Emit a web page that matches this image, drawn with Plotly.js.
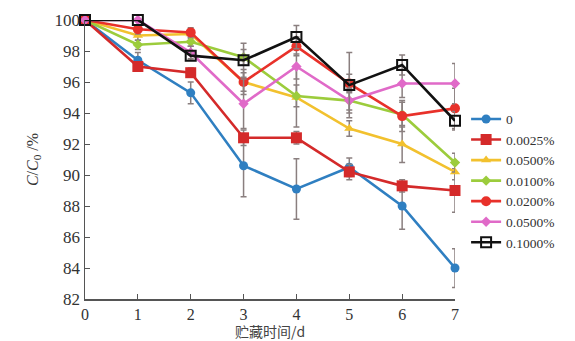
<!DOCTYPE html>
<html>
<head>
<meta charset="utf-8">
<script src="https://cdn.plot.ly/plotly-3.0.1.min.js"></script>
<style>html,body{margin:0;padding:0;background:#fff;}#chart{width:575px;height:341px;}</style>
</head>
<body>
<div id="chart"></div>
<script>
const days = [0, 1, 2, 3, 4, 5, 6, 7];
const seriesNames = ["0", "0.0025%", "0.0500%", "0.0100%", "0.0200%", "0.0500%", "0.1000%"];

const v0      = [100, 97.4, 95.3, 90.6, 89.1, 90.5, 88.0, 84.0];
const v0025   = [100, 97.0, 96.6, 92.4, 92.4, 90.2, 89.3, 89.0];
const v0500a  = [100, 99.0, 99.1, 96.0, 95.0, 93.0, 92.0, 90.2];
const v0100   = [100, 98.4, 98.6, 97.6, 95.1, 94.8, 93.9, 90.8];
const v0200   = [100, 99.4, 99.2, 96.0, 98.3, 95.9, 93.8, 94.3];
const v0500b  = [100, 100, 97.9, 94.6, 97.0, 94.8, 95.9, 95.9];
const v1000   = [100, 100, 97.7, 97.4, 98.9, 95.8, 97.1, 93.5];

const e0      = [0, 0.5, 0.7, 2.0, 1.95, 0.6, 1.5, 1.25];
const e0025   = [0, 0.3, 0.3, 0.5, 0.4, 0.5, 0.4, 1.4];
const e0500a  = [0, 0.3, 0.3, 0.6, 1.9, 0.5, 1.2, 0.5];
const e0100   = [0, 0.3, 0.3, 0.5, 0.7, 0.6, 0.8, 0.6];
const e0200   = [0, 0.3, 0.3, 0.8, 0.6, 0.6, 1.0, 1.3];
const e0500b  = [0, 0, 0.4, 1.6, 0.8, 0.8, 0.9, 1.3];
const e1000   = [0, 0, 0.3, 1.1, 0.75, 2.1, 0.65, 0.6];

const values = [v0, v0025, v0500a, v0100, v0200, v0500b, v1000];
const errors = [e0, e0025, e0500a, e0100, e0200, e0500b, e1000];
const colors = ["#2f7fc1", "#d42a2a", "#f2c12e", "#9ccc3c", "#e8312a", "#e06ac8", "#111111"];
const symbols = ["circle", "square", "triangle-up", "diamond", "circle", "diamond", "square-open"];
const sizes = [9, 11, 9, 8, 10, 8, 10];

const traces = values.map((v, i) => ({
  x: days, y: v, name: seriesNames[i], type: "scatter", mode: "lines+markers",
  line: {color: colors[i], width: 2.6},
  marker: {color: colors[i], symbol: symbols[i], size: sizes[i], line: {width: i === 6 ? 2 : 0, color: colors[i]}},
  error_y: {type: "data", array: errors[i], visible: true, color: "#8a7f7f", thickness: 1.5, width: 3},
  cliponaxis: false
}));

const layout = {
  width: 575, height: 341,
  margin: {l: 85, r: 120, t: 20, b: 42},
  paper_bgcolor: "#fff", plot_bgcolor: "#fff",
  font: {family: "Liberation Serif, Times New Roman, serif", size: 16, color: "#333"},
  showlegend: true,
  legend: {x: 1.03, xanchor: "left", y: 0.7, yanchor: "top", font: {size: 13.5, color: "#333"},
           bgcolor: "rgba(0,0,0,0)", tracegroupgap: 0, itemwidth: 30},
  xaxis: {range: [0, 7], tickvals: days, ticktext: days.map(String), ticks: "inside", ticklen: 5,
          tickcolor: "#555", showline: true, linecolor: "#555", linewidth: 1.5, showgrid: false,
          zeroline: false, tickfont: {size: 16},
          title: {text: "贮藏时间/d", font: {family: "Noto Sans CJK SC, Liberation Serif, serif", size: 14, color: "#444"}, standoff: 0}},
  yaxis: {range: [82, 100], dtick: 2, tick0: 82, ticks: "inside", ticklen: 5, tickcolor: "#555",
          showline: true, linecolor: "#555", linewidth: 1.5, showgrid: false, zeroline: false,
          tickfont: {size: 17},
          title: {text: "<i>C</i>/<i>C</i><sub>0</sub> /%", font: {size: 16, color: "#333"}, standoff: 12}}
};

Plotly.newPlot("chart", traces, layout, {displayModeBar: false, staticPlot: true});
</script>
</body>
</html>
